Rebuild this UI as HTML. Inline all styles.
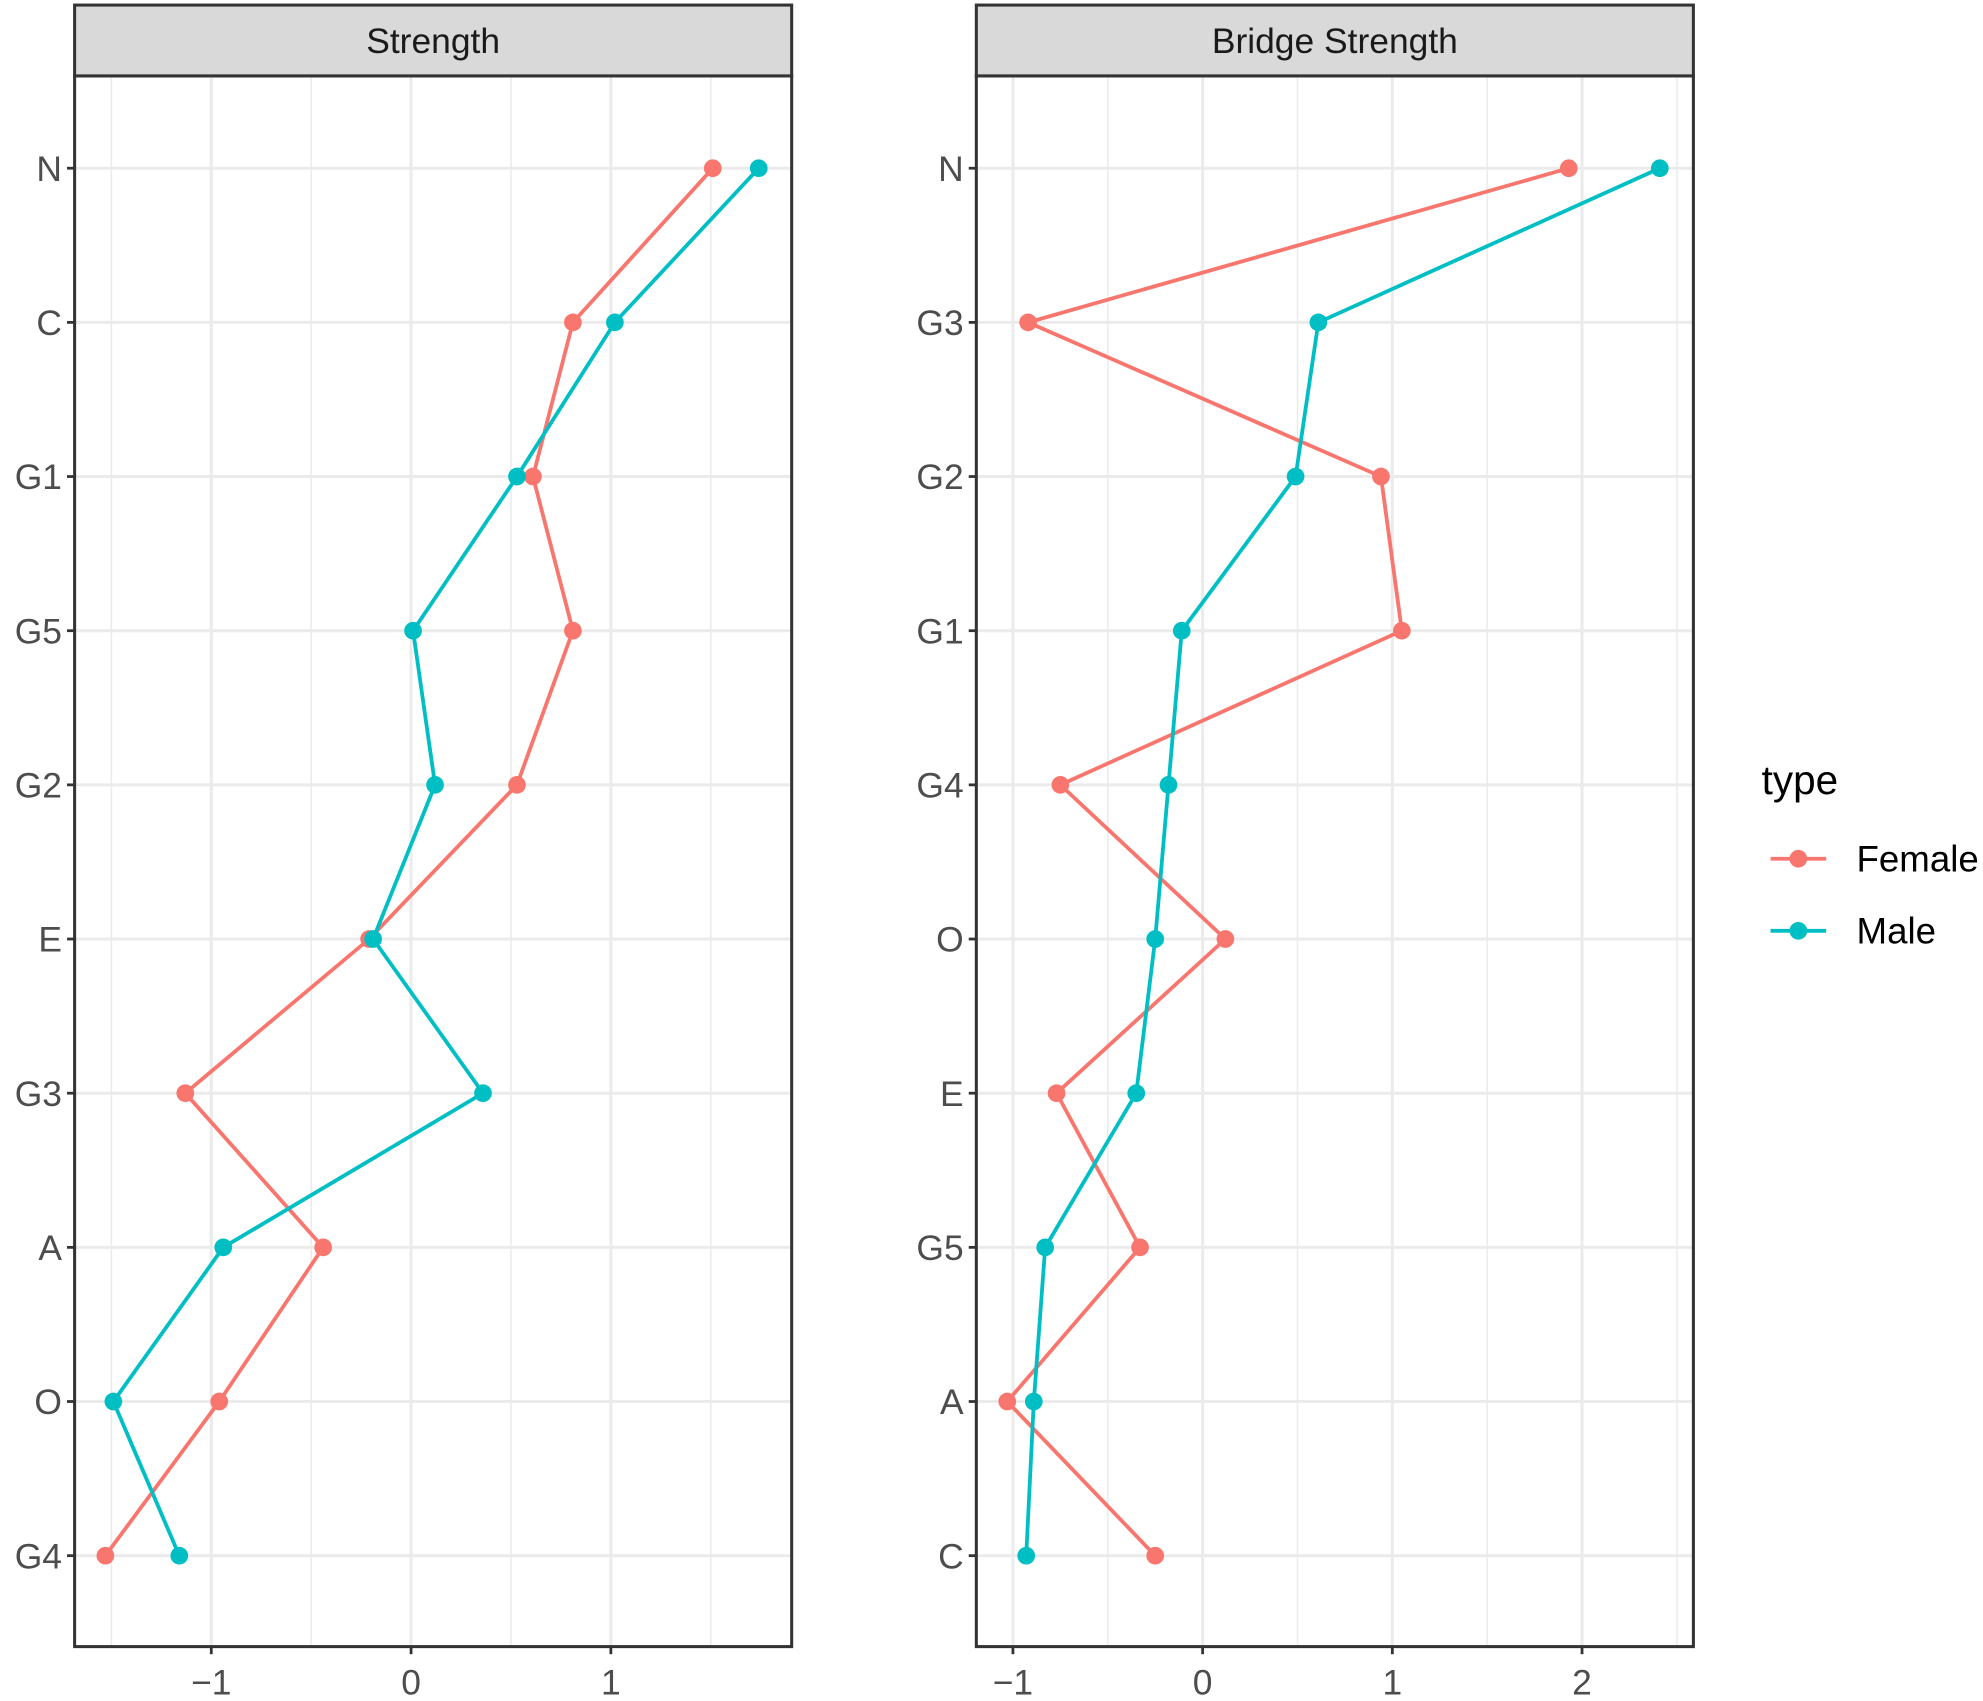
<!DOCTYPE html>
<html><head><meta charset="utf-8"><style>
html,body{margin:0;padding:0;background:#fff}
svg{display:block;font-family:"Liberation Sans",Arial,sans-serif}
</style></head><body>
<svg id="chart" width="1983" height="1701" viewBox="0 0 1568 1345" xmlns="http://www.w3.org/2000/svg"></svg>
<script>
const cats1 = ["N","C","G1","G5","G2","E","G3","A","O","G4"];
const female1 = [1.51,0.81,0.61,0.81,0.53,-0.21,-1.13,-0.44,-0.96,-1.53];
const male1 = [1.74,1.02,0.53,0.01,0.12,-0.19,0.36,-0.94,-1.49,-1.16];
const cats2 = ["N","G3","G2","G1","G4","O","E","G5","A","C"];
const female2 = [1.93,-0.92,0.94,1.05,-0.75,0.12,-0.77,-0.33,-1.03,-0.25];
const male2 = [2.41,0.61,0.49,-0.11,-0.18,-0.25,-0.35,-0.83,-0.89,-0.93];
const ticks1 = [-1,0,1];
const ticks2 = [-1,0,1,2];
const titles = ["Strength","Bridge Strength"];

const NS="http://www.w3.org/2000/svg";
const svgEl=document.getElementById('chart');
function mk(tag,attrs,parent){const e=document.createElementNS(NS,tag);for(const k in attrs)e.setAttribute(k,attrs[k]);(parent||svgEl).appendChild(e);return e;}
const RED="#F8766D", TEAL="#00BFC4";
const plotTop=60,plotBottom=1302;
function yPos(i){return 133+i*121.9;}

function panel(idx,left,right,dmin,dmax,cats,fem,mal,ticks){
  const g=mk('g',{});
  
  
  const x=v=>left+(v-dmin)/(dmax-dmin)*(right-left);
  for(let v=Math.ceil(dmin*2)/2; v<=dmax; v+=0.5){
    const isMajor=Math.abs(v-Math.round(v))<1e-9;
    const l=mk('line',{x1:x(v),x2:x(v),y1:plotTop,y2:plotBottom,stroke:'#ebebeb','stroke-width':isMajor?2.4:1.2},g);
    
    
  }
  cats.forEach((c,i)=>{
    const l=mk('line',{x1:left,x2:right,y1:yPos(i),y2:yPos(i),stroke:'#ebebeb','stroke-width':2.4},g);
    
    
    const tk=mk('line',{x1:left-6,x2:left,y1:yPos(i),y2:yPos(i),stroke:'#333','stroke-width':2.2},g);
    
    
    const t=mk('text',{x:left-10,y:yPos(i)+10,'text-anchor':'end','font-size':28,fill:'#4d4d4d'},g);
    t.textContent=c;
    
    
  });
  ticks.forEach(v=>{
    const tk=mk('line',{x1:x(v),x2:x(v),y1:plotBottom,y2:plotBottom+6,stroke:'#333','stroke-width':2.2},g);
    
    
    const t=mk('text',{x:x(v),y:plotBottom+38,'text-anchor':'middle','font-size':28,fill:'#4d4d4d'},g);
    t.textContent=v<0?'\u2212'+Math.abs(v):String(v);
    
    
  });
  [[fem,RED,'female'],[mal,TEAL,'male']].forEach(([vals,col,nm])=>{
    const p=mk('polyline',{points:vals.map((v,i)=>x(v)+','+yPos(i)).join(' '),fill:'none',stroke:col,'stroke-width':3},g);
    
    
    vals.forEach((v,i)=>{
      const c=mk('circle',{cx:x(v),cy:yPos(i),r:7,fill:col},g);
      
      
    });
  });
  const b=mk('rect',{x:left,y:plotTop,width:right-left,height:plotBottom-plotTop,fill:'none',stroke:'#333','stroke-width':2.4},g);
  
  
  const s=mk('rect',{x:left,y:4,width:right-left,height:56,fill:'#d9d9d9',stroke:'#333','stroke-width':2.4},g);
  
  
  const st=mk('text',{x:(left+right)/2,y:42,'text-anchor':'middle','font-size':28,fill:'#1a1a1a'},g);
  st.textContent=titles[idx];
  
  
}
panel(0,59,626,-1.684,1.905,cats1,female1,male1,ticks1);
panel(1,772,1339,-1.193,2.587,cats2,female2,male2,ticks2);

const lg=mk('g',{});


const lt=mk('text',{x:1393,y:628,'font-size':32,fill:'#000'},lg);
lt.textContent='type';


[['Female',RED,679],['Male',TEAL,736]].forEach(([n,c,y])=>{
  const e=mk('g',{},lg);
  
  
  mk('line',{x1:1400,x2:1444,y1:y,y2:y,stroke:c,'stroke-width':3},e);
  mk('circle',{cx:1422,cy:y,r:7,fill:c},e);
  const t=mk('text',{x:1468,y:y+10,'font-size':29,fill:'#000'},e);
  t.textContent=n;
});
</script>
</body></html>
